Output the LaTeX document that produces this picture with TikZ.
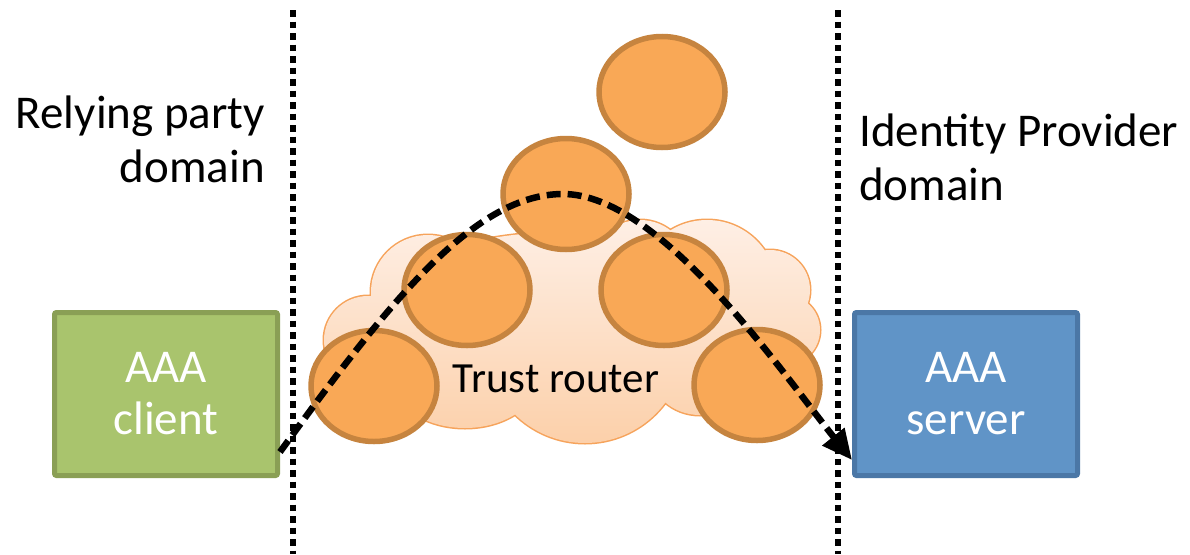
\documentclass[tikz,border=0pt]{standalone}
\usepackage{fontspec}
\setmainfont{Carlito}
\usetikzlibrary{arrows.meta,shapes.geometric}
\definecolor{cloudline}{HTML}{F6A35B}
\definecolor{cloudtop}{HTML}{FEEFE5}
\definecolor{cloudbot}{HTML}{FCD0AA}
\definecolor{ballfill}{HTML}{F9A856}
\definecolor{ballline}{HTML}{C6843F}
\definecolor{greenfill}{HTML}{A9C46D}
\definecolor{greenline}{HTML}{8A9F55}
\definecolor{bluefill}{HTML}{6094C7}
\definecolor{blueline}{HTML}{4B77A6}
\begin{document}
\begin{tikzpicture}[x=1pt,y=-1pt,
  labelfont/.style={font=\fontsize{47}{54}\selectfont},
  boxfont/.style={font=\fontsize{47}{52}\selectfont},
  divider/.style={line width=6.5pt, dash pattern=on 6.5pt off 5pt},
  routerball/.style={ellipse, draw=ballline, fill=ballfill, line width=5.5pt,
    minimum width=126pt, minimum height=111pt, inner sep=0pt},
  aaabox/.style={rectangle, line width=5pt, rounded corners=2pt,
    minimum width=223pt, minimum height=163pt, text=white, align=center,
    boxfont, inner sep=0pt},
  flow/.style={line width=6.5pt, dash pattern=on 14pt off 7pt,
    -{Triangle[length=30pt,width=27pt]}}
]
\useasboundingbox (0,0) rectangle (1190,554);

% domain dividers
\coordinate (d1top) at (293,10);
\coordinate (d1bot) at (293,554);
\coordinate (d2top) at (838,10);
\coordinate (d2bot) at (838,554);
\draw[divider] (d1top) -- (d1bot);
\draw[divider] (d2top) -- (d2bot);

% cloud (union of puffs)
\def\cloudpuffs{(368,340) circle[radius=44pt]
  (428,292) circle[radius=57pt]
  (565,320) ellipse[x radius=200pt, y radius=88pt]
  (640,270) circle[radius=50pt]
  (707,290) circle[radius=70pt]
  (770,290) circle[radius=40pt]
  (785,330) circle[radius=35pt]
  (700,370) ellipse[x radius=50pt, y radius=45pt]
  (585,343) circle[radius=100pt]
  (465,375) ellipse[x radius=75pt, y radius=53pt]}
\draw[cloudline, line width=3pt] \cloudpuffs;
\shade[top color=cloudtop, bottom color=cloudbot] \cloudpuffs;

% routers
\node[routerball] (rtop) at (662,92) {};
\node[routerball] (rmid) at (566,194) {};
\node[routerball] (rlm) at (467,290) {};
\node[routerball] (rrm) at (664,290) {};
\node[routerball] (rlb) at (374,386) {};
\node[routerball] (rrb) at (757,385) {};

\node[font=\fontsize{43}{52}\selectfont, anchor=base, inner sep=0pt] (trust) at (556,392) {Trust router};

% AAA boxes
\node[aaabox, draw=greenline, fill=greenfill] (client) at (166,394) {AAA\\client};
\node[aaabox, draw=blueline, fill=bluefill] (server) at (966,394) {AAA\\server};

% domain labels (base anchor = last line)
\node[labelfont, align=right, anchor=base east, inner sep=0pt] (rp) at (265,182) {Relying party\\domain};
\node[labelfont, align=left, anchor=base west, inner sep=0pt] (idp) at (859,200) {Identity Provider\\domain};

% flow
\coordinate (fstart) at ([yshift=-58pt]client.east);
\coordinate (fend) at ([yshift=-66pt]server.west);
\draw[flow] (fstart) .. controls (390,300) and (475,194) .. (563,194)
  .. controls (660,194) and (780,370) .. (fend);
\end{tikzpicture}
\end{document}
